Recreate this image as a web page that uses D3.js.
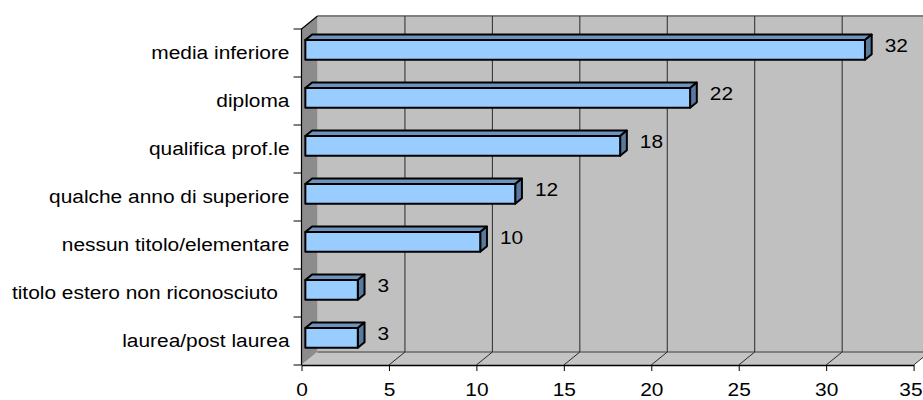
<!DOCTYPE html>
<html>
<head>
<meta charset="utf-8">
<script src="https://cdn.jsdelivr.net/npm/d3@7"></script>
<style>
  html, body { margin: 0; padding: 0; background: #ffffff; }
  svg { display: block; }
  text { font-family: "Liberation Sans", Arial, sans-serif; fill: #000; }
</style>
</head>
<body>
<script>
// Titolo di studio: numero di persone per livello
const categories = [
  "media inferiore",
  "diploma",
  "qualifica prof.le",
  "qualche anno di superiore",
  "nessun titolo/elementare",
  "titolo estero non riconosciuto  ",
  "laurea/post laurea"
];
const values = [32, 22, 18, 12, 10, 3, 3];
const valueTicks = [0, 5, 10, 15, 20, 25, 30, 35];

const W = 923, H = 400;
const FONT = 19, STRETCH = 1.1;   // slightly widened Arial-style lettering
const svg = d3.select("body").append("svg").attr("width", W).attr("height", H);

// Front plane of the 3D box, plus the depth vector toward the back wall
const x = d3.scaleLinear().domain([0, 35]).range([301.5, 913.6]);
const y = d3.scaleBand().domain(categories).range([29, 365]).padding(0);
const depth = { dx: 16, dy: -13 };
function P(px, py, f) { return [px + f * depth.dx, py + f * depth.dy]; }

const yTop = y.range()[0], yBot = y.range()[1];
const x0 = x.range()[0], x1 = x.range()[1];
const line = d3.line();

// Back wall
svg.append("path")
  .attr("d", line([P(x0, yTop, 1), P(x1 + 40, yTop, 1), P(x1 + 40, yBot, 1), P(x0, yBot, 1)]) + "Z")
  .attr("fill", "#c0c0c0");
// Left side wall
svg.append("path")
  .attr("d", line([P(x0, yTop, 0), P(x0, yTop, 1), P(x0, yBot, 1), P(x0, yBot, 0)]) + "Z")
  .attr("fill", "#8c8c8c");
// Floor
svg.append("path")
  .attr("d", line([P(x0, yBot, 0), P(x1, yBot, 0), P(x1, yBot, 1), P(x0, yBot, 1)]) + "Z")
  .attr("fill", "#c4c4c4");
svg.append("path")
  .attr("d", line([P(x1, yBot, 0), P(x1, yBot, 1)]))
  .attr("stroke", "#e6e6e6").attr("stroke-width", 1.2).attr("fill", "none");

// Wall edges
svg.append("path")
  .attr("d", line([P(x0, yTop, 1), P(x1 + 40, yTop, 1)]))
  .attr("stroke", "#808080").attr("stroke-width", 2).attr("fill", "none");
svg.append("path")
  .attr("d", line([P(x0, yBot, 1), P(x1 + 40, yBot, 1)]))
  .attr("stroke", "#808080").attr("stroke-width", 2.2).attr("fill", "none");

// Gridlines on back wall and floor
const grid = svg.append("g").attr("stroke", "#2a2a2a").attr("stroke-width", 1).attr("fill", "none");
valueTicks.filter(v => v > 0).forEach(v => {
  grid.append("path").attr("d", line([P(x(v), yTop, 1), P(x(v), yBot, 1)]));
  grid.append("path").attr("d", line([P(x(v), yBot, 0), P(x(v), yBot, 1)]));
});

// Left wall outline (front edge + top diagonal)
svg.append("path")
  .attr("d", line([P(x0, yTop, 1), P(x0, yTop, 0), P(x0, yBot, 0)]))
  .attr("stroke", "#000").attr("stroke-width", 1.2).attr("fill", "none");

// Category axis ticks between categories
const edges = categories.map(c => y(c)).concat([yBot]);
svg.append("g").selectAll("line").data(edges).join("line")
  .attr("x1", x0 - 8).attr("x2", x0).attr("y1", d => d).attr("y2", d => d)
  .attr("stroke", "#000").attr("stroke-width", 1);

// Category labels
svg.append("g").selectAll("text").data(categories).join("text")
  .attr("transform", d => `translate(289.5,${y(d) + y.bandwidth() / 2 + 6}) scale(${STRETCH},1)`)
  .attr("text-anchor", "end")
  .style("white-space", "pre")
  .style("font-size", FONT + "px")
  .text(d => d);

// Value axis along the front edge of the floor
const xAxis = svg.append("g").attr("transform", `translate(0,${yBot})`)
  .call(d3.axisBottom(x).tickValues(valueTicks).tickSize(6).tickSizeOuter(0).tickPadding(11.5));
xAxis.select(".domain").attr("stroke", "#000").attr("stroke-width", 1.4);
xAxis.selectAll(".tick line").attr("stroke", "#000");
xAxis.selectAll(".tick text")
  .style("font-family", '"Liberation Sans", Arial, sans-serif')
  .style("font-size", FONT + "px").attr("fill", "#000")
  .attr("transform", `scale(${STRETCH},1)`);
// keep the last tick label inside the drawing
xAxis.selectAll(".tick").each(function (v) {
  const t = d3.select(this).select("text");
  const half = t.node().getComputedTextLength() * STRETCH / 2;
  const over = x(v) + half - (W - 1);
  if (over > 0) t.attr("x", -over / STRETCH);
});

// 3D bars
const barH = y.bandwidth() * 0.41;
const f0 = 0.24, f1 = 0.66;
const bars = svg.append("g").selectAll("g").data(categories).join("g");
bars.each(function (c, i) {
  const g = d3.select(this);
  const v = values[i];
  const yc = y(c) + y.bandwidth() / 2;
  const ya = yc - barH / 2, yb = yc + barH / 2;
  const xa = x(0), xb = x(v);
  // top face
  g.append("path")
    .attr("d", line([P(xa, ya, f0), P(xb, ya, f0), P(xb, ya, f1), P(xa, ya, f1)]) + "Z")
    .attr("fill", "#6f93bf").attr("stroke", "#000").attr("stroke-width", 2).attr("stroke-linejoin", "round");
  // end face
  g.append("path")
    .attr("d", line([P(xb, ya, f0), P(xb, ya, f1), P(xb, yb, f1), P(xb, yb, f0)]) + "Z")
    .attr("fill", "#587a9f").attr("stroke", "#000").attr("stroke-width", 2).attr("stroke-linejoin", "round");
  // front face
  g.append("path")
    .attr("d", line([P(xa, ya, f0), P(xb, ya, f0), P(xb, yb, f0), P(xa, yb, f0)]) + "Z")
    .attr("fill", "#99ccff").attr("stroke", "#000").attr("stroke-width", 2).attr("stroke-linejoin", "round");
});

// Value labels
svg.append("g").selectAll("text").data(categories).join("text")
  .attr("transform", (c, i) =>
    `translate(${P(x(values[i]), 0, f1)[0] + 13},${y(c) + y.bandwidth() / 2 - 1.5}) scale(${STRETCH},1)`)
  .style("font-size", FONT + "px")
  .text((c, i) => values[i]);
</script>
</body>
</html>
